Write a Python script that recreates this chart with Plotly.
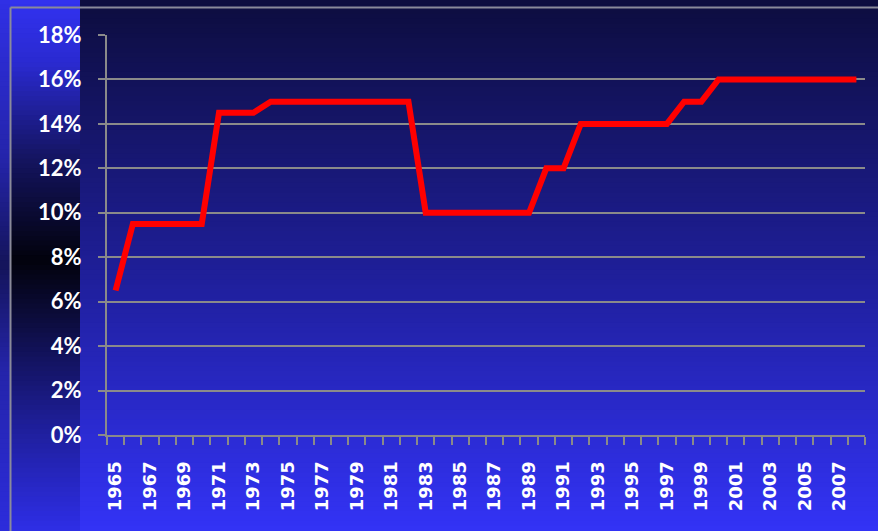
import plotly.graph_objects as go

# ---- data ----
years = list(range(1965, 2009))
rates = [6.5, 9.5, 9.5, 9.5, 9.5, 9.5,
         14.5, 14.5, 14.5, 15, 15, 15, 15, 15, 15, 15, 15, 15,
         10, 10, 10, 10, 10, 10, 10,
         12, 12, 14, 14, 14, 14, 14, 14,
         15, 15, 16, 16, 16, 16, 16, 16, 16, 16, 16]
tick_years = list(range(1965, 2008, 2))
y_ticks = [0, 2, 4, 6, 8, 10, 12, 14, 16, 18]

W, H = 878, 531
ML, MR, MT, MB = 107, 13, 35, 96
PW, PH = W - ML - MR, H - MT - MB


def px(x):
    return (x - ML) / PW


def py(y):
    return (H - MB - y) / PH


def lerp_color(stops, t):
    for i in range(len(stops) - 1):
        t0, c0 = stops[i]
        t1, c1 = stops[i + 1]
        if t0 <= t <= t1:
            f = 0 if t1 == t0 else (t - t0) / (t1 - t0)
            return "rgb(%d,%d,%d)" % tuple(round(a + (b - a) * f) for a, b in zip(c0, c1))
    return "rgb(%d,%d,%d)" % stops[-1][1]


main_stops = [(0.0, (13, 13, 62)), (0.5, (30, 30, 150)), (1.0, (51, 51, 246))]
left_stops = [(0.0, (50, 50, 240)), (0.12, (42, 42, 208)), (0.3, (20, 20, 96)),
              (0.49, (2, 2, 12)), (0.6, (12, 12, 60)), (0.8, (30, 30, 152)), (1.0, (46, 46, 230))]
edge_stops = [(0.0, (48, 48, 230)), (0.3, (36, 36, 170)), (0.5, (20, 20, 90)),
              (0.7, (36, 36, 170)), (1.0, (44, 44, 220))]

shapes = []
N = 110
for i in range(N):
    top = i * H / N
    bot = (i + 1) * H / N
    t = (i + 0.5) / N
    for x0, x1, st in [(80, W, main_stops), (10, 80, left_stops), (0, 10, edge_stops)]:
        shapes.append(dict(type="rect", xref="paper", yref="paper", x0=px(x0), x1=px(x1),
                           y0=py(bot + 0.6), y1=py(top - 0.6), fillcolor=lerp_color(st, t),
                           line=dict(width=0), layer="below"))

# frame lines
shapes.append(dict(type="line", xref="paper", yref="paper", x0=px(10.5), x1=px(W),
                   y0=py(7.5), y1=py(7.5), line=dict(color="#8a8a9a", width=2), layer="below"))
shapes.append(dict(type="line", xref="paper", yref="paper", x0=px(10.5), x1=px(10.5),
                   y0=py(H), y1=py(7.5), line=dict(color="#8a8a9a", width=2), layer="below"))

fig = go.Figure(go.Scatter(x=years, y=rates, mode="lines",
                           line=dict(color="#ff0000", width=6),
                           hoverinfo="x+y"))

fig.update_layout(
    width=W, height=H,
    margin=dict(l=ML, r=MR, t=MT, b=MB),
    paper_bgcolor="#1e1e96",
    plot_bgcolor="rgba(0,0,0,0)",
    shapes=shapes,
    showlegend=False,
    xaxis=dict(
        range=[1964.5, 2008.5],
        tickvals=tick_years,
        ticktext=[str(y) for y in tick_years],
        tickangle=-90,
        ticks="", ticklabelstandoff=17,
        tickfont=dict(family="DejaVu Sans", size=18, color="white", weight="bold"),
        showgrid=False, zeroline=False,
        showline=True, linecolor="#8a8a8a", linewidth=2,
        minor=dict(tickvals=[y - 0.5 for y in years] + [2008.5], ticks="outside",
                   ticklen=8, tickcolor="#8a8a8a", tickwidth=2, showgrid=False),
    ),
    yaxis=dict(
        range=[0, 18],
        tickvals=y_ticks,
        ticktext=["%d%%" % v for v in y_ticks],
        ticks="outside", ticklen=7, tickcolor="#8a8a8a", tickwidth=2,
        ticklabelstandoff=12,
        tickfont=dict(family="Lato", size=22, color="white", weight="bold"),
        showgrid=True, gridcolor="#8a8a8a", gridwidth=2,
        zeroline=False,
        showline=True, linecolor="#8a8a8a", linewidth=2,
    ),
)

fig.write_html("out.html",
               config={"displayModeBar": False},
               post_script="document.body.style.margin='0';"
                           "document.body.style.background='#1e1e96';")
